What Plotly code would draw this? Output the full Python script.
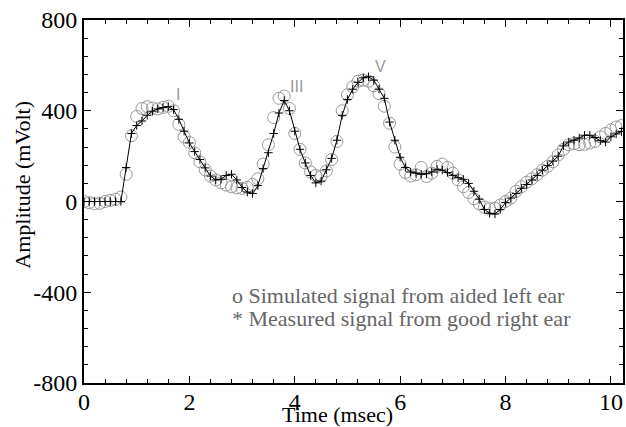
import plotly.graph_objects as go

# sample times (msec), one sample every 0.1 msec
time_ms = [round(i * 0.1, 1) for i in range(103)]

# simulated signal from aided left ear (circles)
simulated = [
    0, -5, -10, -8, 0, 5, 10, 20, 120, 290,
    375, 410, 418, 412, 408, 415, 420, 400, 340, 285,
    260, 215, 175, 140, 112, 95, 82, 72, 65, 60,
    58, 62, 75, 100, 165, 250, 370, 455, 465, 410,
    300, 230, 170, 130, 115, 110, 135, 185, 265, 400,
    470, 505, 530, 535, 530, 510, 475, 420, 345, 240,
    165, 128, 112, 118, 150, 110, 125, 155, 165, 150,
    125, 95, 65, 40, 12, -10, -25, -32, -30, -15,
    0, 15, 45, 65, 85, 100, 118, 138, 155, 175,
    205, 230, 250, 255, 250, 252, 258, 265, 285, 300,
    315, 328, 335,
]

# measured signal from good right ear (crosses + line)
measured = [
    0, 0, 0, 0, 0, 0, 0, 0, 150, 300,
    335, 355, 380, 398, 408, 414, 418, 405, 362, 310,
    258, 220, 185, 148, 112, 95, 98, 115, 120, 95,
    62, 42, 35, 70, 145, 215, 300, 390, 445, 400,
    310, 230, 170, 115, 82, 90, 140, 190, 270, 380,
    450, 495, 525, 545, 550, 535, 495, 455, 350, 270,
    195, 150, 130, 125, 120, 122, 130, 142, 138, 128,
    115, 105, 98, 80, 45, 10, -35, -52, -55, -35,
    -5, 15, 35, 58, 75, 95, 115, 138, 158, 178,
    200, 245, 262, 270, 280, 292, 292, 282, 268, 262,
    285, 298, 308,
]

# wave labels
wave_names = ['I', 'III', 'V']
wave_x = [1.78, 4.04, 5.63]
wave_y = [472, 507, 595]

y_ticks = [-800, -400, 0, 400, 800]
y_ticktext = ['-800', '-400', '0', '400', '800']
x_ticks = [0, 2, 4, 6, 8, 10]

serif = 'Liberation Serif, Times New Roman, serif'

fig = go.Figure()

fig.add_trace(go.Scatter(
    x=time_ms, y=simulated, mode='markers',
    marker=dict(symbol='circle-open', size=12, color='#999999',
                line=dict(width=1, color='#999999')),
    showlegend=False
))

fig.add_trace(go.Scatter(
    x=time_ms, y=measured, mode='lines+markers',
    line=dict(color='black', width=1),
    marker=dict(symbol='cross-thin', size=6, color='black',
                line=dict(width=1, color='black')),
    showlegend=False
))

for name, wx, wy in zip(wave_names, wave_x, wave_y):
    fig.add_annotation(x=wx, y=wy, text=name, showarrow=False,
                       font=dict(family='Liberation Sans, Arial, sans-serif',
                                 size=16, color='#999999'))

fig.add_annotation(xref='paper', yref='paper', x=0.27, y=0.24,
                   xanchor='left', yanchor='middle', showarrow=False,
                   text='o Simulated signal from aided left ear',
                   font=dict(family=serif, size=22, color='#666666'))
fig.add_annotation(xref='paper', yref='paper', x=0.27, y=0.179,
                   xanchor='left', yanchor='middle', showarrow=False,
                   text='* Measured signal from good right ear',
                   font=dict(family=serif, size=22, color='#666666'))

# axis titles placed by hand
fig.add_annotation(xref='paper', yref='paper', x=0.4695, y=-0.087,
                   xanchor='center', yanchor='middle', showarrow=False,
                   text='Time (msec)', font=dict(family=serif, size=22, color='black'))
fig.add_annotation(xref='paper', yref='paper', x=-0.1146, y=0.547,
                   xanchor='center', yanchor='middle', showarrow=False,
                   textangle=-90,
                   text='Amplitude (mVolt)', font=dict(family=serif, size=22, color='black'))

fig.update_xaxes(
    range=[0, 10.23], tickvals=x_ticks,
    showline=True, linecolor='black', linewidth=2, mirror='allticks',
    ticks='inside', ticklen=7, tickcolor='black', tickwidth=1,
    minor=dict(dtick=0.4, ticks='inside', ticklen=4, tickcolor='black'),
    showgrid=False, zeroline=False, ticklabelstandoff=-4,
    tickfont=dict(family=serif, size=24, color='black')
)
fig.update_yaxes(
    range=[-800, 800], tickvals=y_ticks, ticktext=y_ticktext,
    showline=True, linecolor='black', linewidth=2, mirror='allticks',
    ticks='inside', ticklen=7, tickcolor='black', tickwidth=1,
    minor=dict(dtick=80, ticks='inside', ticklen=4, tickcolor='black'),
    showgrid=False, zeroline=False,
    tickfont=dict(family=serif, size=24, color='black')
)

fig.update_layout(
    width=626, height=427,
    margin=dict(l=84, r=1, t=20, b=44),
    plot_bgcolor='white', paper_bgcolor='white',
    showlegend=False
)

# page has a default body margin; drop it so the figure sits at the top-left
fig.write_html("out.html", config={'displayModeBar': False},
               post_script="document.body.style.margin='0';")
